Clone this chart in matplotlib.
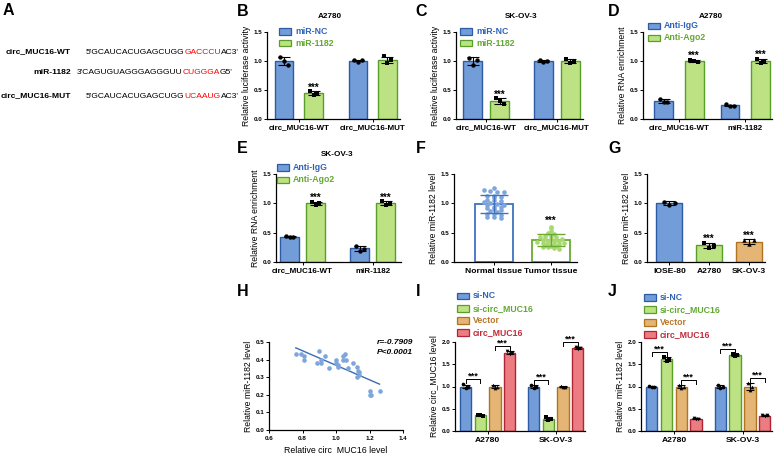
import numpy as np
import matplotlib
matplotlib.use('Agg')
import matplotlib.pyplot as plt
from matplotlib.patches import Rectangle

plt.rcParams['font.family'] = ['Liberation Sans', 'DejaVu Sans']
plt.rcParams['font.weight'] = 'bold'

# ---------------- data ----------------
seq_labels = ['circ_MUC16-WT', 'miR-1182', 'circ_MUC16-MUT']
seq_parts = [["5'GCAUCACUGAGCUGG", "GACCCU", "AC3'"],
             ["3'CAGUGUAGGGAGGGUU", "CUGGGA", "G5'"],
             ["5'GCAUCACUGAGCUGG", "UCAAUG", "AC3'"]]

luc_groups = ['circ_MUC16-WT', 'circ_MUC16-MUT']
luc_series = ['miR-NC', 'miR-1182']
b_nc = [[1.07, 1.00, 0.93], [1.02, 0.99, 1.01]]
b_mir = [[0.48, 0.42, 0.45], [1.08, 0.97, 1.01]]
c_nc = [[1.06, 0.93, 1.01], [1.02, 0.99, 1.00]]
c_mir = [[0.36, 0.31, 0.25], [1.04, 0.97, 1.00]]

rip_groups = ['circ_MUC16-WT', 'miR-1182']
rip_series = ['Anti-IgG', 'Anti-Ago2']
d_igg = [[0.34, 0.29, 0.30], [0.25, 0.22, 0.23]]
d_ago = [[1.02, 1.00, 0.99], [1.04, 0.96, 1.00]]
e_igg = [[0.45, 0.43, 0.42], [0.28, 0.19, 0.23]]
e_ago = [[1.03, 0.98, 1.00], [1.04, 0.97, 1.00]]

tissue_labels = ['Normal tissue', 'Tumor tissue']
normal_tissue = [1.26, 1.22, 1.21, 1.20, 1.19, 1.13, 1.12, 1.11, 1.10, 1.06,
                 1.05, 1.04, 1.02, 1.00, 0.99, 0.98, 0.97, 0.94, 0.93, 0.92,
                 0.90, 0.88, 0.87, 0.86, 0.82, 0.81, 0.80, 0.77, 0.76, 0.75]
tumor_tissue = [0.60, 0.58, 0.52, 0.50, 0.48, 0.45, 0.44, 0.42, 0.40, 0.39,
                0.38, 0.37, 0.36, 0.35, 0.34, 0.33, 0.32, 0.31, 0.30, 0.29,
                0.28, 0.27, 0.26, 0.25, 0.24, 0.23, 0.40, 0.43, 0.33, 0.36]

cell_lines = ['IOSE-80', 'A2780', 'SK-OV-3']
g_vals = [[1.03, 0.97, 1.01], [0.33, 0.24, 0.28], [0.37, 0.30, 0.37]]

h_circ = [0.76, 0.79, 0.81, 0.81, 0.885, 0.90, 0.91, 0.91, 0.935, 0.96,
          1.00, 1.00, 1.01, 1.01, 1.04, 1.04, 1.055, 1.06, 1.07, 1.10,
          1.125, 1.13, 1.135, 1.125, 1.14, 1.20, 1.20, 1.21, 1.26]
h_mir = [0.43, 0.43, 0.42, 0.40, 0.38, 0.45, 0.40, 0.38, 0.42, 0.35,
         0.40, 0.38, 0.37, 0.36, 0.42, 0.40, 0.43, 0.40, 0.35, 0.38,
         0.36, 0.335, 0.31, 0.30, 0.33, 0.22, 0.20, 0.20, 0.22]
h_r_text = 'r=-0.7909'
h_p_text = 'P<0.0001'

cells = ['A2780', 'SK-OV-3']
groups4 = ['si-NC', 'si-circ_MUC16', 'Vector', 'circ_MUC16']
i_sinc = [[1.05, 0.97, 0.98], [1.03, 0.97, 1.00]]
i_sicirc = [[0.36, 0.35, 0.34], [0.31, 0.25, 0.28]]
i_vector = [[1.03, 0.97, 1.00], [1.01, 0.99, 1.00]]
i_circ = [[1.80, 1.72, 1.76], [1.88, 1.84, 1.86]]
j_sinc = [[1.01, 0.99, 1.00], [1.03, 0.97, 1.00]]
j_sicirc = [[1.66, 1.58, 1.62], [1.73, 1.69, 1.71]]
j_vector = [[1.03, 0.97, 1.00], [1.08, 0.92, 1.00]]
j_circ = [[0.30, 0.26, 0.28], [0.36, 0.33, 0.35]]

# ---------------- style ----------------
BLUE_F, BLUE_E, BLUE_T = '#729dd8', '#2d5ba6', '#2f63b5'
GREEN_F, GREEN_E, GREEN_T = '#bde284', '#5a9e2a', '#62a832'
ORANGE_F, ORANGE_E, ORANGE_T = '#e4b574', '#b0731f', '#b8782a'
RED_F, RED_E, RED_T = '#ec7c82', '#b02535', '#c02a3a'

W, H = 777, 454
fig = plt.figure(figsize=(W / 100, H / 100), dpi=100)
TICK_FS = 4.5
XL_FS = 5.8
YL_FS = 6.2
STAR_FS = 7.0


def ax_px(left, top, right, bottom):
    return fig.add_axes([left / W, 1 - bottom / H, (right - left) / W, (bottom - top) / H])


def fx(x):
    return x / W


def fy(y):
    return 1 - y / H


def style(ax, ylim, yticks, ylabel):
    for s in ['top', 'right']:
        ax.spines[s].set_visible(False)
    for s in ['left', 'bottom']:
        ax.spines[s].set_linewidth(0.9)
    ax.set_ylim(*ylim)
    ax.set_yticks(yticks)
    ax.set_yticklabels([f'{t:.1f}' for t in yticks])
    ax.tick_params(axis='y', labelsize=TICK_FS, length=2, width=0.7, pad=1.5)
    ax.tick_params(axis='x', labelsize=XL_FS, length=2.5, width=0.7, pad=1.5)
    ax.set_ylabel(ylabel, fontsize=YL_FS, labelpad=2)


def draw_bar(ax, x, reps, w, fc, ec, marker='o', cap=4, ms=10):
    reps = np.asarray(reps, dtype=float)
    m = reps.mean()
    sd = reps.std(ddof=1)
    ax.bar(x, m, w, color=fc, edgecolor=ec, linewidth=1.0, zorder=2)
    ax.errorbar(x, m, yerr=sd, fmt='none', ecolor='black', elinewidth=0.8,
                capsize=cap, capthick=0.8, zorder=3)
    offs = np.linspace(-0.2, 0.2, len(reps)) * w
    ax.scatter(x + offs, reps, s=ms, c='black', marker=marker, zorder=4, linewidths=0)
    return m + sd


def stars(ax, x, y, fs=STAR_FS):
    ax.text(x, y, '***', ha='center', va='baseline', fontsize=fs, clip_on=False)


def legend(x, y0, dy, labels, fcs, ecs, tcs):
    for k, (lab, fc, ec, tc) in enumerate(zip(labels, fcs, ecs, tcs)):
        y = y0 + k * dy
        fig.patches.append(Rectangle((fx(x), fy(y + 3.4)), 12 / W, 6.8 / H,
                                     transform=fig.transFigure, facecolor=fc,
                                     edgecolor=ec, linewidth=0.9))
        fig.text(fx(x + 16), fy(y), lab, color=tc, fontsize=6.3,
                 va='center', ha='left')


def letter(x, y, s):
    fig.text(fx(x), fy(y), s, fontsize=11.5, fontweight='bold', va='top', ha='left')


# ---------------- panel A ----------------
axA = fig.add_axes([0, 0, 1, 1])
axA.axis('off')
axA.set_xlim(0, 1)
axA.set_ylim(0, 1)
row_y = [52, 72, 96]
seq_x = [86, 77, 86]
for lab, parts, y, sx in zip(seq_labels, seq_parts, row_y, seq_x):
    axA.text(fx(71), fy(y), lab, fontsize=6.1, ha='right', va='center')
    prev = axA.text(fx(sx), fy(y), parts[0], fontsize=6.1, fontweight='normal',
                    ha='left', va='center')
    for k, p in enumerate(parts[1:]):
        col = 'red' if k == 0 else 'black'
        prev = axA.annotate(p, xy=(1, 0), xycoords=prev, ha='left', va='bottom',
                            fontsize=6.1, fontweight='normal', color=col)


# ---------------- panels B, C, D, E ----------------
def two_group_panel(box, xlim, groups, s1, s2, names, title, title_xy, leg_xy,
                    off, w, ylabel, star_idx):
    ax = ax_px(*box)
    x = np.arange(len(groups))
    tops2 = []
    for i in x:
        draw_bar(ax, i - off, s1[i], w, BLUE_F, BLUE_E, marker='o')
        tops2.append(draw_bar(ax, i + off, s2[i], w, GREEN_F, GREEN_E, marker='s'))
    for i in star_idx:
        stars(ax, i + off, tops2[i] + 0.01)
    ax.set_xlim(*xlim)
    ax.set_xticks(x)
    ax.set_xticklabels(groups)
    style(ax, (0, 1.5), [0.0, 0.5, 1.0, 1.5], ylabel)
    if title:
        fig.text(fx(title_xy[0]), fy(title_xy[1]), title, fontsize=5.9,
                 ha='center', va='center')
    legend(leg_xy[0], leg_xy[1], leg_xy[2], names, [BLUE_F, GREEN_F],
           [BLUE_E, GREEN_E], [BLUE_T, GREEN_T])
    return ax


two_group_panel((267, 32, 400, 119), (-0.43, 1.37), luc_groups, b_nc, b_mir, luc_series,
                'A2780', (330, 17), (279, 31.5, 11.5), 0.2, 0.25,
                'Relative luciferase activity', [0])
two_group_panel((456, 32, 583, 119), (-0.43, 1.37), luc_groups, c_nc, c_mir, luc_series,
                'SK-OV-3', (521, 17), (460, 31.5, 11.5), 0.19, 0.27,
                'Relative luciferase activity', [0])
two_group_panel((643, 32, 772, 119), (-0.54, 1.4), rip_groups, d_igg, d_ago, rip_series,
                'A2780', (711, 17), (648, 26, 12), 0.23, 0.28,
                'Relative RNA enrichment', [0, 1])
two_group_panel((276, 174, 401, 262), (-0.38, 1.4), rip_groups, e_igg, e_ago, rip_series,
                'SK-OV-3', (337, 155), (277, 167.5, 12.5), 0.185, 0.27,
                'Relative RNA enrichment', [0, 1])

# ---------------- panel F ----------------
axF = ax_px(454, 174, 577, 262)
for i, (vals, ec, dc, binw, step) in enumerate([(normal_tissue, '#3f72c2', '#7ea6dc', 0.05, 0.12),
                                               (tumor_tissue, '#6aaa30', '#a8d870', 0.04, 0.095)]):
    v = np.asarray(vals)
    m, sd = v.mean(), v.std(ddof=1)
    axF.bar(i, m, 0.67, color='white', edgecolor=ec, linewidth=1.3, zorder=2)
    # simple swarm layout
    bins = np.round(v / binw).astype(int)
    xs = np.zeros_like(v)
    for b in np.unique(bins):
        idx = np.where(bins == b)[0]
        n = len(idx)
        xs[idx] = (np.arange(n) - (n - 1) / 2) * step
    axF.scatter(i + xs, v, s=11, color=dc, zorder=3, linewidths=0)
    axF.errorbar(i, m, yerr=sd, fmt='none', ecolor=ec, elinewidth=1.0,
                 capsize=10, capthick=1.0, zorder=4)
    if i == 1:
        stars(axF, i, v.max() + 0.05)
axF.set_xlim(-0.7, 1.46)
axF.set_xticks([0, 1])
axF.set_xticklabels(tissue_labels)
style(axF, (0, 1.5), [0.0, 0.5, 1.0, 1.5], 'Relative miR-1182 level')
axF.tick_params(axis='x', labelsize=6.1)

# ---------------- panel G ----------------
axG = ax_px(647, 174, 765, 262)
g_cols = [(BLUE_F, BLUE_E, 'o'), (GREEN_F, GREEN_E, 's'), (ORANGE_F, ORANGE_E, '^')]
for i, (vals, (fc, ec, mk)) in enumerate(zip(g_vals, g_cols)):
    top = draw_bar(axG, i, vals, 0.66, fc, ec, marker=mk)
    if i > 0:
        stars(axG, i, top + 0.01)
axG.set_xlim(-0.56, 2.4)
axG.set_xticks(range(len(cell_lines)))
axG.set_xticklabels(cell_lines)
style(axG, (0, 1.5), [0.0, 0.5, 1.0, 1.5], 'Relative miR-1182 level')
axG.tick_params(axis='x', labelsize=6.1)

# ---------------- panel H ----------------
axH = ax_px(269, 342, 403, 430)
axH.scatter(h_circ, h_mir, s=11, color='#7ea6dc', linewidths=0, zorder=3)
k, b0 = np.polyfit(h_circ, h_mir, 1)
xx = np.array([min(h_circ), max(h_circ)])
axH.plot(xx, k * xx + b0, color='#3a6cb4', lw=1.0, zorder=2)
axH.set_xlim(0.6, 1.4)
axH.set_xticks([0.6, 0.8, 1.0, 1.2, 1.4])
axH.set_xticklabels(['0.6', '0.8', '1.0', '1.2', '1.4'])
style(axH, (0, 0.5), [0.0, 0.1, 0.2, 0.3, 0.4, 0.5], 'Relative miR-1182 level')
axH.tick_params(axis='x', labelsize=TICK_FS)
axH.set_xlabel('Relative circ_MUC16 level', fontsize=6.3, labelpad=3)
fig.text(fx(413), fy(343), h_r_text, fontsize=6.0, style='italic', ha='right', va='center')
fig.text(fx(413), fy(353), h_p_text, fontsize=6.0, style='italic', ha='right', va='center')

# ---------------- panels I, J ----------------
FC4 = [BLUE_F, GREEN_F, ORANGE_F, RED_F]
EC4 = [BLUE_E, GREEN_E, ORANGE_E, RED_E]
TC4 = [BLUE_T, GREEN_T, ORANGE_T, RED_T]
MK4 = ['o', 's', '^', 'v']


def four_panel(box, series, ylabel, leg_xy, xlim):
    ax = ax_px(*box)
    pitch, w = 0.216, 0.165
    offs = (np.arange(4) - 1.5) * pitch
    for ci in range(len(cells)):
        tops = []
        for si in range(4):
            tops.append(draw_bar(ax, ci + offs[si], series[si][ci], w, FC4[si], EC4[si],
                                 marker=MK4[si], cap=3.2, ms=7))
        for a, bb in [(0, 1), (2, 3)]:
            y = max(tops[a], tops[bb]) + 0.12
            x1, x2 = ci + offs[a], ci + offs[bb]
            ax.plot([x1, x1, x2, x2], [y - 0.09, y, y, y - 0.09], color='black',
                    lw=0.7, clip_on=False, zorder=5)
            stars(ax, (x1 + x2) / 2, y + 0.01, fs=6.6)
    ax.set_xlim(*xlim)
    ax.set_xticks(range(len(cells)))
    ax.set_xticklabels(cells)
    style(ax, (0, 2.0), [0.0, 0.5, 1.0, 1.5, 2.0], ylabel)
    ax.tick_params(axis='x', labelsize=6.1)
    legend(leg_xy[0], leg_xy[1], 12.3, groups4, FC4, EC4, TC4)
    return ax


four_panel((455, 342, 585, 431), [i_sinc, i_sicirc, i_vector, i_circ],
           'Relative circ_MUC16 level', (457, 296), (-0.48, 1.43))
four_panel((641, 342, 772, 431), [j_sinc, j_sicirc, j_vector, j_circ],
           'Relative miR-1182 level', (644, 297.5), (-0.48, 1.43))

# ---------------- letters ----------------
for (x, y, s) in [(3, 3, 'A'), (237, 4, 'B'), (415, 4, 'C'), (608, 4, 'D'),
                  (237, 141, 'E'), (416, 141, 'F'), (608, 141, 'G'),
                  (237, 284, 'H'), (416, 284, 'I'), (608, 284, 'J')]:
    letter(x, y, s)

fig.savefig('out.png', dpi=100)
